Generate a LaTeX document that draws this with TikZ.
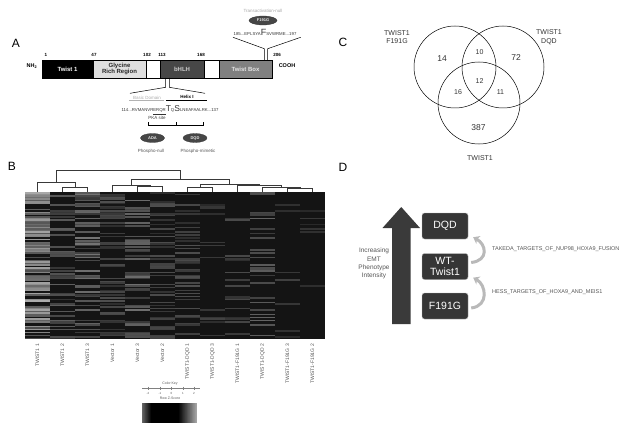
\documentclass[tikz,border=0pt]{standalone}
\usepackage{fontspec}
\setmainfont{Liberation Sans}
\usetikzlibrary{arrows.meta,shapes.geometric}
\definecolor{hmbg}{HTML}{141414}
\definecolor{boxd}{HTML}{363636}
\definecolor{arrowd}{HTML}{3A3A3A}
\definecolor{txtg}{HTML}{555555}
\begin{document}
\begin{tikzpicture}[x=1pt,y=-1pt,
  panel/.style={font=\fontsize{12}{12}\selectfont, inner sep=0},
  seg/.style={draw=black, line width=0.3pt, inner sep=0, minimum height=18pt, font=\fontsize{6}{6.5}\selectfont\bfseries, align=center},
  posl/.style={font=\fontsize{4.5}{5}\selectfont\bfseries, inner sep=0},
  mut/.style={ellipse, fill=gray!55!black, draw=gray!40!black, line width=0.3pt, text=gray!15, inner sep=0, minimum width=24pt, minimum height=9pt, font=\fontsize{4}{4}\selectfont\bfseries},
  small/.style={font=\fontsize{4.5}{5}\selectfont, inner sep=0, text=txtg},
  dend/.style={draw=gray!45!black, line width=0.5pt},
  collab/.style={font=\fontsize{5}{5}\selectfont, inner sep=0, text=txtg, rotate=90, anchor=east},
  venn/.style={circle, draw=black, line width=0.5pt, minimum size=82pt, inner sep=0},
  vlab/.style={font=\fontsize{7}{8.5}\selectfont, inner sep=0, align=center, text=black!80},
  vnum/.style={font=\fontsize{8.5}{9}\selectfont, inner sep=0, text=black!80},
  vnums/.style={font=\fontsize{7}{8}\selectfont, inner sep=0, text=black!80},
  dbox/.style={rounded corners=2.5pt, fill=boxd, draw=gray!60, line width=0.4pt, text=white, minimum width=46pt, minimum height=26pt, inner sep=0, align=center, font=\fontsize{10.5}{11}\selectfont},
  garrow/.style={draw=gray!55, line width=3pt, -{Stealth[length=6pt,width=9pt]}},
  glab/.style={font=\fontsize{5.5}{6}\selectfont, inner sep=0, anchor=west, text=txtg}
]
\useasboundingbox (0,0) rectangle (634,433);

% ---------------- Panel A ----------------
\node[panel] (pA) at (16,43) {A};
\node[seg, fill=black, text=white, minimum width=51pt] (s1) at (67.5,69) {Twist 1};
\node[seg, fill=gray!25, text=black!85, minimum width=53pt] (s2) at (119.5,69) {Glycine\\Rich Region};
\node[seg, fill=white, minimum width=14pt] (s3) at (153,69) {};
\node[seg, fill=black!72, text=gray!40, minimum width=44pt] (s4) at (182,69) {bHLH};
\node[seg, fill=white, minimum width=15pt] (s5) at (211.5,69) {};
\node[seg, fill=black!50, text=gray!20, minimum width=53pt] (s6) at (245.5,69) {Twist Box};

\node[posl, anchor=south] (p1) at (46,57) {1};
\node[posl, anchor=south] (p47) at (94,57) {47};
\node[posl, anchor=south] (p102) at (147,57) {102};
\node[posl, anchor=south] (p113) at (162,57) {113};
\node[posl, anchor=south] (p168) at (201,57) {168};
\node[posl, anchor=south] (p206) at (277,57) {206};
\node[font=\fontsize{5.5}{6}\selectfont\bfseries, inner sep=0] (nh) at (32,66) {NH$_{\mathbf 2}$};
\node[font=\fontsize{5.5}{6}\selectfont\bfseries, inner sep=0] (cooh) at (287,66) {COOH};

% upper zoom
\coordinate (ua) at (264.3,60);
\coordinate (ub) at (267.7,60);
\draw[line width=0.5pt] (ua) -- (264.3,48.7) -- (233,37.3);
\draw[line width=0.5pt] (ub) -- (267.7,48.7) -- (300.7,37.3);
\node[font=\fontsize{4.3}{5}\selectfont, inner sep=0, text=black!80] (seq1) at (265,32) {185...EPLSYA{\fontsize{9}{9}\selectfont F}SVWRME...197};
\node[mut, minimum width=28pt] (mF) at (263,20.5) {F191G};
\node[small, text=gray!70] (tn) at (263,11) {Transactivation-null};

% lower zoom
\coordinate (la) at (165.7,78);
\coordinate (lb) at (169.3,78);
\draw[line width=0.5pt] (la) -- (165.7,87.3) -- (130,93.3);
\draw[line width=0.5pt] (lb) -- (169.3,87.3) -- (205,93.3);
\node[small, text=gray!65] (bd) at (147,97.5) {Basic Domain};
\node[font=\fontsize{4.5}{5}\selectfont\bfseries, inner sep=0] (hx) at (187,97) {Helix I};
\draw[gray!60, line width=0.6pt] (129,100.5) -- (164,100.5);
\draw[black, line width=0.8pt] (166,100.5) -- (207,100.5);
\node[font=\fontsize{4.3}{5}\selectfont, inner sep=0, text=black!80] (seq2) at (170,110) {114...RVMANVR\underline{ERQR}{\fontsize{8.5}{8.5}\selectfont T}Q{\fontsize{8.5}{8.5}\selectfont S}LNEAFAALRK...137};
\node[small, text=black!75] (pka) at (157,117.5) {PKA site};
\draw[line width=0.5pt] (148,122.5) -- (148,125) -- (203,125) -- (203,122.5);
\draw[line width=0.5pt] (176,125) -- (176,122.5);
\node[mut] (mA) at (152.5,138) {ADA};
\node[mut] (mD) at (195,138) {DQD};
\node[small] (pn) at (151,151.5) {Phospho-null};
\node[small] (pm) at (198,151.5) {Phospho-mimetic};

% ---------------- Panel B ----------------
\node[panel] (pB) at (12,166) {B};
\fill[hmbg] (25,192) rectangle (325,339);
\pgfmathsetseed{11}
\foreach \c/\p/\m/\b in {0/0.66/38/30, 1/0.42/20/20, 2/0.46/24/22, 3/0.4/14/18, 4/0.42/22/22, 5/0.36/14/18, 6/0.28/14/18, 7/0.13/12/16, 8/0.2/12/18, 9/0.24/18/22, 10/0.07/10/16, 11/0.1/10/16}{
  \foreach \r in {0,...,97}{
    \pgfmathsetmacro\u{rnd}
    \ifdim\u pt<\p pt
      \pgfmathtruncatemacro\lv{\b+rnd*\m}
      \fill[white!\lv!black] (25+\c*25,192+\r*1.5) rectangle +(25,1.5);
    \fi
  }
}
% dendrogram
\draw[dend] (56,182) -- (56,170) -- (180,170) -- (180,179);
\draw[dend] (37.5,192) -- (37.5,182) -- (75,182) -- (75,187);
\draw[dend] (62.5,192) -- (62.5,187) -- (87.5,187) -- (87.5,192);
\draw[dend] (131.25,185) -- (131.25,179) -- (229.5,179) -- (229.5,184);
\draw[dend] (112.5,192) -- (112.5,185) -- (150,185) -- (150,186.5);
\draw[dend] (137.5,192) -- (137.5,186.5) -- (162.5,186.5) -- (162.5,192);
\draw[dend] (200,187) -- (200,184) -- (259,184) -- (259,185.5);
\draw[dend] (187.5,192) -- (187.5,187) -- (212.5,187) -- (212.5,192);
\draw[dend] (237.5,192) -- (237.5,185.5) -- (281,185.5) -- (281,187);
\draw[dend] (262.5,192) -- (262.5,187) -- (300,187) -- (300,188.5);
\draw[dend] (287.5,192) -- (287.5,188.5) -- (312.5,188.5) -- (312.5,192);
% column labels
\node[collab] (c1) at (37.5,344) {TWIST1 1};
\node[collab] (c2) at (62.5,344) {TWIST1 2};
\node[collab] (c3) at (87.5,344) {TWIST1 3};
\node[collab] (c4) at (112.5,344) {Vector 1};
\node[collab] (c5) at (137.5,344) {Vector 3};
\node[collab] (c6) at (162.5,344) {Vector 2};
\node[collab] (c7) at (187.5,344) {TWIST1-DQD 1};
\node[collab] (c8) at (212.5,344) {TWIST1-DQD 3};
\node[collab] (c9) at (237.5,344) {TWIST1-F191G 1};
\node[collab] (c10) at (262.5,344) {TWIST1-DQD 2};
\node[collab] (c11) at (287.5,344) {TWIST1-F191G 3};
\node[collab] (c12) at (312.5,344) {TWIST1-F191G 2};
% color key
\node[font=\fontsize{3.5}{4}\selectfont, inner sep=0, text=txtg] (ck) at (170,384) {Color Key};
\draw[gray, line width=0.3pt] (142,388) -- (200,388);
\foreach \x/\t in {148/-2,160/-1,171.5/0,183/1,194/2}{
  \draw[gray, line width=0.3pt] (\x,386.5) -- (\x,389.5);
  \node[font=\fontsize{3}{3}\selectfont, inner sep=0, text=txtg] at (\x,393) {\t};
}
\node[font=\fontsize{3.5}{4}\selectfont, inner sep=0, text=txtg] (rz) at (170,398.5) {Row Z-Score};
\foreach \i in {0,...,54}{
  \pgfmathtruncatemacro\gl{\i<9 ? 40-\i*4.4 : (\i<36 ? 0 : (\i-36)*3.6)}
  \fill[white!\gl!black] (142+\i,403) rectangle +(1.05,20);
}

% ---------------- Panel C ----------------
\node[panel] (pC) at (343,42) {C};
\node[venn] (vF) at (455,67) {};
\node[venn] (vD) at (503,67) {};
\node[venn] (vT) at (479,103) {};
\node[vlab] (lF) at (397,37) {TWIST1\\F191G};
\node[vlab] (lD) at (549,37) {TWIST1\\DQD};
\node[vlab] (lT) at (480,158) {TWIST1};
\node[vnum] (n14) at (442,59) {14};
\node[vnums] (n10) at (479.5,52) {10};
\node[vnum] (n72) at (516,58) {72};
\node[vnums] (n12) at (479.5,81) {12};
\node[vnums] (n16) at (458,92.5) {16};
\node[vnums] (n11) at (500.5,92.5) {11};
\node[vnum] (n387) at (478.5,127.5) {387};

% ---------------- Panel D ----------------
\node[panel] (pD) at (343,167) {D};
\fill[arrowd] (392,324) -- (410.5,324) -- (410.5,228) -- (420,228) -- (401.25,207) -- (382.5,228) -- (392,228) -- cycle;
\node[font=\fontsize{6.5}{8.3}\selectfont, inner sep=0, align=center, text=txtg] (inc) at (374,263.5) {Increasing\\EMT\\Phenotype\\Intensity};
\node[dbox] (dqd) at (445,226) {DQD};
\node[dbox] (wt) at (445,266.5) {WT-\\Twist1};
\node[dbox] (f191) at (445,306) {F191G};
\draw[garrow] ([xshift=3pt,yshift=4pt]wt.east) .. controls +(18,-2) and +(13,7) .. ([xshift=5pt,yshift=2pt]dqd.south east);
\draw[garrow] ([xshift=3pt,yshift=-2pt]f191.east) .. controls +(18,-2) and +(13,7) .. ([xshift=5pt,yshift=2pt]wt.south east);
\node[glab] (tk) at (492,249) {TAKEDA\_TARGETS\_OF\_NUP98\_HOXA9\_FUSION};
\node[glab] (hs) at (492,292) {HESS\_TARGETS\_OF\_HOXA9\_AND\_MEIS1};
\end{tikzpicture}
\end{document}
